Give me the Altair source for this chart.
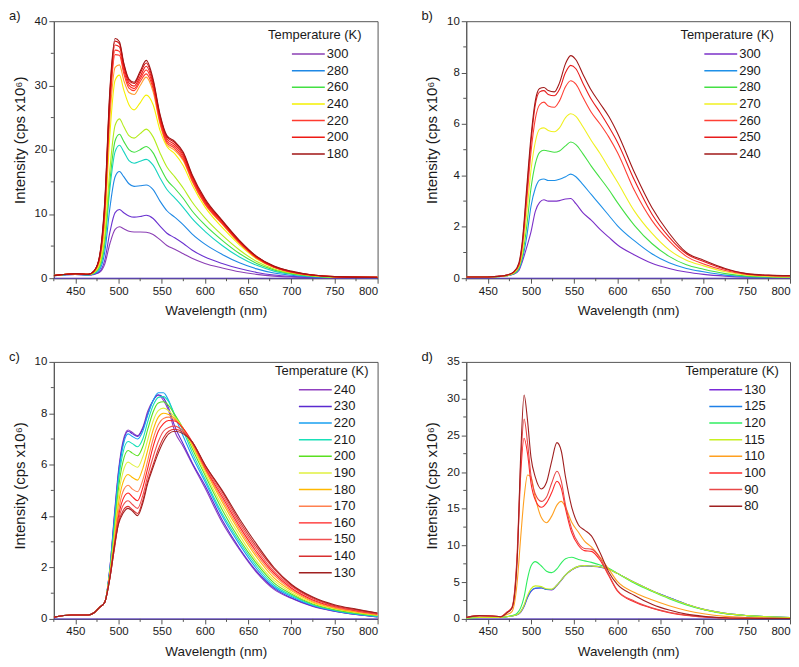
import altair as alt
import pandas as pd

FONT = "Liberation Sans"
AX = "#555555"
TXT = "#1a1a1a"

X_MAJOR = [450, 500, 550, 600, 650, 700, 750, 800]
X_MINOR = [425, 475, 525, 575, 625, 675, 725, 775]

# ---------------- panel a ----------------
WL_A = [425, 450, 465, 472, 478, 484, 490, 496, 501, 506, 512, 518, 525, 532, 540, 548, 556, 565, 575, 585, 600, 620, 640, 660, 680, 700, 725, 750, 800]
T_A = ["300", "290", "280", "270", "260", "250", "240", "230", "220", "210", "200", "190", "180"]
LEG_A = ["300", "280", "260", "240", "220", "200", "180"]
COL_A = ["#8b3fb5", "#6a32d0", "#1e88e5", "#17d4c0", "#43e043", "#b4ec1c", "#f5f000", "#ffa030", "#ff3b2f", "#ff2a1f", "#ee1a14", "#d01010", "#a01414"]
A_300 = [0.4, 0.6, 0.5, 0.6, 0.9, 2.2, 5.4, 7.6, 8.0, 7.7, 7.3, 7.2, 7.2, 7.15, 6.8, 6.0, 5.1, 4.5, 3.8, 3.1, 2.3, 1.6, 1.0, 0.6, 0.33, 0.18, 0.09, 0.05, 0.04]
A_290 = [0.4, 0.6, 0.5, 0.65, 1.0, 2.8, 7.2, 10.2, 10.7, 10.2, 9.7, 9.5, 9.6, 9.8, 9.3, 8.1, 7.0, 6.3, 5.4, 4.4, 3.3, 2.3, 1.5, 0.9, 0.5, 0.28, 0.13, 0.07, 0.05]
A_280 = [0.4, 0.6, 0.5, 0.7, 1.3, 4.1, 11.0, 15.8, 16.6, 15.8, 14.7, 14.3, 14.4, 14.5, 13.8, 12.0, 10.5, 9.5, 8.3, 6.9, 5.3, 3.7, 2.4, 1.45, 0.8, 0.45, 0.2, 0.1, 0.07]
A_270 = [0.4, 0.65, 0.55, 0.8, 1.6, 5.2, 14.0, 19.7, 20.7, 19.7, 18.3, 17.9, 18.2, 18.5, 17.6, 15.6, 13.8, 12.5, 11.0, 9.3, 7.3, 5.1, 3.3, 2.0, 1.1, 0.62, 0.28, 0.14, 0.09]
A_260 = [0.4, 0.65, 0.55, 0.85, 1.8, 5.8, 15.2, 21.4, 22.4, 21.3, 20.0, 19.6, 20.0, 20.5, 19.5, 17.3, 15.3, 14.0, 12.4, 10.5, 8.3, 5.9, 3.85, 2.3, 1.3, 0.72, 0.33, 0.16, 0.1]
A_250 = [0.4, 0.7, 0.6, 0.9, 2.0, 6.5, 17.0, 23.8, 24.8, 23.6, 22.2, 21.8, 22.5, 23.2, 22.0, 19.5, 17.3, 15.8, 14.0, 11.9, 9.4, 6.7, 4.4, 2.6, 1.45, 0.8, 0.37, 0.18, 0.12]
A_240 = [0.4, 0.7, 0.6, 1.0, 2.5, 8.5, 22.5, 30.8, 31.6, 29.3, 27.0, 26.2, 27.3, 28.5, 27.0, 23.0, 20.5, 19.4, 17.5, 14.6, 11.1, 7.9, 5.2, 3.0, 1.65, 0.92, 0.42, 0.2, 0.13]
A_230 = [0.4, 0.7, 0.6, 1.1, 2.8, 9.5, 25.0, 32.8, 33.2, 30.8, 28.9, 28.6, 30.0, 31.3, 29.0, 24.0, 20.8, 19.9, 18.3, 15.1, 11.5, 8.4, 5.45, 3.1, 1.7, 0.95, 0.45, 0.22, 0.14]
A_220 = [0.4, 0.7, 0.6, 1.1, 3.0, 10.2, 26.8, 34.8, 34.7, 31.9, 29.6, 29.2, 30.6, 31.8, 29.5, 24.3, 21.1, 20.2, 18.5, 15.3, 11.6, 8.5, 5.5, 3.15, 1.7, 0.95, 0.45, 0.22, 0.14]
A_210 = [0.4, 0.7, 0.6, 1.2, 3.2, 10.8, 27.6, 35.5, 35.3, 32.4, 30.0, 29.5, 31.0, 32.4, 29.9, 24.6, 21.4, 20.5, 18.8, 15.5, 11.8, 8.6, 5.6, 3.2, 1.75, 1.0, 0.45, 0.22, 0.14]
A_200 = [0.4, 0.7, 0.6, 1.2, 3.3, 11.2, 28.4, 36.3, 36.0, 32.9, 30.4, 29.9, 31.4, 33.0, 30.3, 25.0, 21.7, 20.8, 19.1, 15.8, 12.0, 8.8, 5.7, 3.3, 1.8, 1.0, 0.5, 0.25, 0.15]
A_190 = [0.4, 0.7, 0.6, 1.2, 3.4, 11.6, 29.0, 36.9, 36.5, 33.3, 30.8, 30.3, 31.9, 33.5, 30.7, 25.3, 22.0, 21.1, 19.4, 16.0, 12.2, 8.9, 5.8, 3.35, 1.85, 1.05, 0.5, 0.25, 0.15]
A_180 = [0.4, 0.7, 0.6, 1.2, 3.5, 12.0, 29.5, 37.3, 36.8, 33.5, 31.0, 30.5, 32.2, 33.9, 31.0, 25.5, 22.2, 21.3, 19.6, 16.2, 12.4, 9.0, 5.9, 3.4, 1.9, 1.1, 0.5, 0.25, 0.15]

# ---------------- panel b ----------------
WL_B = [425, 450, 465, 472, 480, 486, 490, 495, 500, 505, 510, 515, 520, 527, 533, 540, 546, 552, 560, 570, 580, 590, 600, 620, 640, 660, 680, 700, 725, 750, 775, 800]
T_B = ["300", "290", "280", "270", "260", "250", "240"]
COL_B = ["#7b30c8", "#1e90e8", "#44e044", "#f0f020", "#ff4035", "#e81c1c", "#a01818"]
B_300 = [0.05, 0.05, 0.07, 0.1, 0.15, 0.3, 0.65, 1.2, 1.8, 2.6, 2.95, 3.05, 3.0, 3.0, 3.02, 3.08, 3.1, 2.9, 2.55, 2.25, 1.9, 1.6, 1.3, 0.9, 0.58, 0.38, 0.24, 0.15, 0.08, 0.04, 0.03, 0.02]
B_290 = [0.05, 0.05, 0.07, 0.1, 0.17, 0.35, 0.75, 1.6, 2.8, 3.5, 3.82, 3.86, 3.8, 3.8, 3.85, 3.95, 4.05, 3.95, 3.65, 3.25, 2.85, 2.45, 2.05, 1.45, 0.95, 0.6, 0.38, 0.25, 0.12, 0.06, 0.04, 0.03]
B_280 = [0.05, 0.05, 0.07, 0.1, 0.18, 0.4, 0.85, 2.0, 3.5, 4.45, 4.9, 4.98, 4.95, 4.9, 4.95, 5.15, 5.3, 5.2, 4.85, 4.35, 3.9, 3.45, 2.95, 2.05, 1.35, 0.85, 0.52, 0.35, 0.18, 0.08, 0.05, 0.04]
B_270 = [0.05, 0.05, 0.07, 0.1, 0.2, 0.45, 1.0, 2.5, 4.2, 5.3, 5.8, 5.85, 5.75, 5.7, 5.85, 6.25, 6.4, 6.3, 5.9, 5.35, 4.85, 4.3, 3.75, 2.6, 1.75, 1.1, 0.7, 0.48, 0.25, 0.12, 0.07, 0.05]
B_260 = [0.05, 0.05, 0.08, 0.12, 0.23, 0.5, 1.25, 3.0, 4.9, 6.2, 6.75, 6.85, 6.7, 6.65, 6.9, 7.45, 7.68, 7.55, 7.05, 6.45, 6.0, 5.5, 4.9, 3.4, 2.25, 1.45, 0.85, 0.55, 0.3, 0.15, 0.1, 0.08]
B_250 = [0.05, 0.05, 0.08, 0.12, 0.24, 0.55, 1.35, 3.3, 5.3, 6.75, 7.25, 7.3, 7.15, 7.1, 7.35, 8.0, 8.28, 8.15, 7.6, 6.95, 6.45, 5.9, 5.3, 3.8, 2.5, 1.6, 0.95, 0.65, 0.35, 0.17, 0.11, 0.1]
B_240 = [0.05, 0.05, 0.08, 0.12, 0.25, 0.6, 1.45, 3.5, 5.5, 6.9, 7.38, 7.42, 7.3, 7.25, 7.6, 8.35, 8.66, 8.5, 7.95, 7.3, 6.8, 6.3, 5.66, 4.1, 2.75, 1.75, 1.0, 0.7, 0.38, 0.18, 0.12, 0.1]

# ---------------- panel c ----------------
WL_C = [425, 445, 465, 472, 478, 484, 490, 495, 500, 505, 511, 516, 522, 528, 534, 540, 546, 552, 558, 565, 575, 585, 600, 620, 640, 660, 680, 700, 725, 750, 775, 800]
T_C = ["240", "230", "220", "210", "200", "190", "180", "170", "160", "150", "140", "130"]
COL_C = ["#9040c0", "#5a2ad0", "#18a0f0", "#18e0b8", "#5ae020", "#e0f040", "#ffb800", "#ff8050", "#ff2020", "#f05050", "#d83030", "#a02020"]
C_240 = [0.07, 0.15, 0.15, 0.25, 0.45, 0.65, 2.0, 4.0, 5.8, 6.9, 7.35, 7.25, 7.13, 7.45, 8.1, 8.5, 8.7, 8.5, 8.1, 7.3, 6.7, 6.05, 5.1, 3.75, 2.7, 1.8, 1.15, 0.8, 0.48, 0.3, 0.17, 0.08]
C_230 = [0.07, 0.15, 0.15, 0.25, 0.45, 0.65, 2.0, 3.9, 5.7, 6.8, 7.3, 7.2, 7.1, 7.4, 8.0, 8.5, 8.72, 8.6, 8.2, 7.5, 6.8, 6.1, 5.2, 3.85, 2.75, 1.85, 1.2, 0.82, 0.5, 0.3, 0.17, 0.08]
C_220 = [0.07, 0.15, 0.15, 0.25, 0.45, 0.65, 1.95, 3.8, 5.6, 6.7, 7.2, 7.1, 7.0, 7.3, 7.95, 8.5, 8.8, 8.8, 8.5, 7.9, 7.1, 6.35, 5.35, 4.0, 2.9, 1.95, 1.25, 0.87, 0.52, 0.32, 0.18, 0.09]
C_210 = [0.07, 0.15, 0.15, 0.25, 0.45, 0.65, 1.9, 3.6, 5.4, 6.45, 6.9, 6.82, 6.7, 7.0, 7.7, 8.3, 8.62, 8.65, 8.45, 7.95, 7.3, 6.5, 5.45, 4.1, 3.0, 2.05, 1.32, 0.92, 0.55, 0.34, 0.2, 0.1]
C_200 = [0.07, 0.15, 0.15, 0.25, 0.45, 0.65, 1.85, 3.4, 5.1, 6.1, 6.55, 6.45, 6.35, 6.7, 7.4, 8.05, 8.4, 8.45, 8.3, 7.95, 7.4, 6.65, 5.6, 4.25, 3.1, 2.15, 1.4, 0.97, 0.58, 0.36, 0.22, 0.12]
C_190 = [0.07, 0.15, 0.15, 0.25, 0.45, 0.65, 1.8, 3.2, 4.8, 5.7, 6.1, 6.0, 5.9, 6.3, 7.0, 7.7, 8.1, 8.2, 8.1, 7.85, 7.4, 6.75, 5.7, 4.4, 3.25, 2.25, 1.5, 1.03, 0.62, 0.4, 0.25, 0.14]
C_180 = [0.07, 0.15, 0.15, 0.25, 0.45, 0.65, 1.75, 3.0, 4.5, 5.3, 5.62, 5.5, 5.4, 5.85, 6.6, 7.35, 7.85, 8.0, 7.95, 7.8, 7.4, 6.8, 5.8, 4.55, 3.4, 2.4, 1.6, 1.1, 0.66, 0.42, 0.27, 0.15]
C_170 = [0.07, 0.15, 0.15, 0.25, 0.45, 0.65, 1.7, 2.9, 4.2, 4.95, 5.2, 5.05, 4.95, 5.4, 6.2, 7.0, 7.55, 7.8, 7.85, 7.75, 7.4, 6.85, 5.85, 4.65, 3.5, 2.5, 1.7, 1.15, 0.7, 0.45, 0.3, 0.17]
C_160 = [0.07, 0.15, 0.15, 0.25, 0.45, 0.65, 1.65, 2.8, 4.0, 4.65, 4.9, 4.75, 4.6, 5.1, 5.9, 6.7, 7.3, 7.6, 7.72, 7.7, 7.4, 6.9, 5.9, 4.75, 3.6, 2.6, 1.78, 1.2, 0.74, 0.48, 0.32, 0.19]
C_150 = [0.07, 0.15, 0.15, 0.25, 0.45, 0.65, 1.6, 2.7, 3.85, 4.4, 4.6, 4.45, 4.3, 4.8, 5.6, 6.3, 6.9, 7.3, 7.45, 7.5, 7.3, 6.9, 5.95, 4.85, 3.7, 2.7, 1.85, 1.27, 0.78, 0.5, 0.34, 0.2]
C_140 = [0.07, 0.15, 0.15, 0.25, 0.45, 0.65, 1.6, 2.7, 3.75, 4.2, 4.38, 4.25, 4.1, 4.6, 5.4, 6.0, 6.6, 7.05, 7.3, 7.38, 7.25, 6.9, 6.0, 4.95, 3.8, 2.8, 1.95, 1.32, 0.82, 0.52, 0.36, 0.22]
C_130 = [0.07, 0.15, 0.15, 0.25, 0.45, 0.65, 1.6, 2.8, 3.7, 4.1, 4.3, 4.2, 4.02, 4.5, 5.3, 5.9, 6.45, 6.9, 7.2, 7.3, 7.2, 6.9, 6.0, 5.0, 3.9, 2.9, 2.0, 1.35, 0.85, 0.55, 0.38, 0.23]

# ---------------- panel d ----------------
WL_D = [425, 440, 455, 465, 472, 478, 484, 488, 492, 496, 500, 505, 512, 518, 524, 530, 535, 540, 547, 555, 562, 570, 580, 590, 600, 620, 640, 660, 680, 700, 725, 750, 800]
T_D = ["130", "125", "120", "115", "110", "100", "90", "80"]
COL_D = ["#7a2ad8", "#1e80e8", "#30ee60", "#c8f020", "#ffa020", "#ff2a2a", "#e84848", "#a02020"]
D_130 = [0.1, 0.2, 0.2, 0.2, 0.3, 0.4, 0.55, 0.9, 1.7, 2.9, 3.75, 4.15, 4.2, 4.0, 3.95, 4.55, 5.25, 5.95, 6.65, 7.1, 7.2, 7.15, 7.05, 6.75, 6.2, 4.95, 3.85, 2.9, 2.0, 1.3, 0.75, 0.45, 0.2]
D_125 = [0.1, 0.2, 0.2, 0.2, 0.3, 0.4, 0.6, 1.0, 1.8, 3.0, 3.8, 4.2, 4.25, 4.0, 4.0, 4.6, 5.3, 6.0, 6.7, 7.15, 7.25, 7.2, 7.1, 6.75, 6.2, 4.95, 3.85, 2.9, 2.0, 1.3, 0.75, 0.45, 0.2]
D_120 = [0.1, 0.2, 0.2, 0.2, 0.3, 0.45, 0.8, 1.5, 3.0, 5.5, 7.2, 7.8, 7.2, 6.5, 6.3, 6.8, 7.6, 8.2, 8.4, 8.1, 7.9, 7.7, 7.35, 6.9, 6.2, 4.85, 3.75, 2.75, 1.9, 1.25, 0.7, 0.45, 0.2]
D_115 = [0.1, 0.2, 0.2, 0.2, 0.3, 0.4, 0.6, 1.0, 1.9, 3.2, 4.1, 4.5, 4.4, 4.1, 4.05, 4.6, 5.3, 6.0, 6.7, 7.15, 7.25, 7.2, 7.1, 6.75, 6.2, 4.95, 3.85, 2.85, 2.0, 1.3, 0.75, 0.45, 0.2]
D_110 = [0.2, 0.4, 0.35, 0.3, 0.6, 1.0, 5.0, 11.0, 16.5, 19.6, 19.3, 16.5, 13.8, 13.1, 14.0, 15.5, 16.0, 15.2, 13.2, 11.8, 10.6, 9.8, 8.4, 6.8, 5.1, 3.6, 2.6, 1.8, 1.15, 0.7, 0.35, 0.2, 0.1]
D_100 = [0.2, 0.45, 0.4, 0.3, 0.9, 1.5, 8.5, 19.5, 24.6, 22.5, 18.5, 16.2, 15.2, 15.8, 17.2, 18.75, 17.8, 15.0, 11.8, 10.0, 9.3, 9.2, 8.0, 5.9, 3.8, 2.3, 1.45, 0.85, 0.48, 0.27, 0.12, 0.07, 0.05]
D_90 = [0.2, 0.45, 0.4, 0.3, 0.9, 1.6, 9.0, 21.0, 27.2, 24.0, 19.5, 17.0, 16.0, 16.6, 18.5, 20.1, 18.8, 15.5, 12.3, 10.3, 9.6, 9.5, 8.3, 6.0, 3.9, 2.4, 1.5, 0.9, 0.5, 0.28, 0.12, 0.07, 0.05]
D_80 = [0.2, 0.45, 0.4, 0.3, 0.8, 1.5, 8.0, 22.0, 30.5, 27.0, 22.0, 19.3, 17.7, 18.6, 21.5, 24.0, 22.9, 19.3, 15.3, 12.8, 12.1, 11.3, 9.0, 6.4, 4.7, 3.2, 2.0, 1.2, 0.65, 0.35, 0.15, 0.08, 0.05]

W = 325
H = 258


def make_df(wl, temps, series):
    rows = []
    for k, (t, vals) in enumerate(zip(temps, series)):
        for w, v in zip(wl, vals):
            rows.append({"wl": w, "I": v, "T": t, "k": k})
    return pd.DataFrame(rows)


def panel(tag, wl, temps, series, colors, ymax, ymajor, yminor, legend_vals, lx, ly, tshift):
    df = make_df(wl, temps, series)
    xs = alt.Scale(domain=[425, 800], nice=False, zero=False)
    ys = alt.Scale(domain=[0, ymax], nice=False)
    xaxis = alt.Axis(values=X_MAJOR, title="Wavelength (nm)")
    yaxis = alt.Axis(values=ymajor, title="Intensity (cps x10⁶)", titleY=H / 2 + tshift)
    lines = alt.Chart(df).mark_line(strokeWidth=1.1, interpolate="monotone", clip=True).encode(
        x=alt.X("wl:Q", scale=xs, axis=xaxis),
        y=alt.Y("I:Q", scale=ys, axis=yaxis),
        color=alt.Color(
            "T:N",
            sort=temps,
            scale=alt.Scale(domain=temps, range=colors),
            legend=alt.Legend(title="Temperature (K)", values=legend_vals, orient="none",
                              legendX=lx, legendY=ly),
        ),
        detail="k:N",
    )
    zero = alt.Chart(pd.DataFrame({"I": [0]})).mark_rule(color="#5a3cc8", strokeWidth=1).encode(
        y=alt.Y("I:Q", scale=ys, axis=yaxis)
    )
    xmin = alt.Chart(pd.DataFrame({"wl": X_MINOR})).mark_rule(color=AX, strokeWidth=1).encode(
        x=alt.X("wl:Q", scale=xs, axis=xaxis), y=alt.value(H), y2=alt.value(H + 3)
    )
    ymin = alt.Chart(pd.DataFrame({"I": yminor})).mark_rule(color=AX, strokeWidth=1).encode(
        y=alt.Y("I:Q", scale=ys, axis=yaxis), x=alt.value(0), x2=alt.value(-3)
    )
    return alt.layer(zero, lines, xmin, ymin).properties(
        width=W,
        height=H,
        title=alt.TitleParams(tag, anchor="start", frame="group", dx=-45, offset=-8,
                              fontSize=13, fontWeight="normal", font=FONT, color=TXT),
    )


pa = panel("a)", WL_A, T_A, [A_300, A_290, A_280, A_270, A_260, A_250, A_240, A_230, A_220, A_210, A_200, A_190, A_180],
           COL_A, 40, [0, 10, 20, 30, 40], [5, 15, 25, 35], LEG_A, 215, 8, -10)
pb = panel("b)", WL_B, T_B, [B_300, B_290, B_280, B_270, B_260, B_250, B_240],
           COL_B, 10, [0, 2, 4, 6, 8, 10], [1, 3, 5, 7, 9], T_B, 215, 8, -10)
pc = panel("c)", WL_C, T_C, [C_240, C_230, C_220, C_210, C_200, C_190, C_180, C_170, C_160, C_150, C_140, C_130],
           COL_C, 10, [0, 2, 4, 6, 8, 10], [1, 3, 5, 7, 9], T_C, 222, 3, -5)
pd_ = panel("d)", WL_D, T_D, [D_130, D_125, D_120, D_115, D_110, D_100, D_90, D_80],
            COL_D, 35, [0, 5, 10, 15, 20, 25, 30, 35], [2.5, 7.5, 12.5, 17.5, 22.5, 27.5, 32.5], T_D, 220, 3, -5)

row1 = alt.hconcat(pa, pb, spacing=42).resolve_scale(color="independent", x="independent", y="independent")
row2 = alt.hconcat(pc, pd_, spacing=42).resolve_scale(color="independent", x="independent", y="independent")

chart = (
    alt.vconcat(row1, row2, spacing=32)
    .resolve_scale(color="independent", x="independent", y="independent")
    .properties(padding=0)
    .configure(font=FONT)
    .configure_view(stroke=AX, strokeWidth=1)
    .configure_axis(
        labelFont=FONT, titleFont=FONT, labelFontSize=11.5,
        labelColor=TXT, titleColor=TXT, domainColor=AX, tickColor=AX, tickSize=5,
        grid=False, titleFontWeight="normal", labelPadding=2,
    )
    .configure_axisX(titlePadding=7, titleFontSize=13.5)
    .configure_axisY(titlePadding=7, titleFontSize=15)
    .configure_legend(
        titleFont=FONT, labelFont=FONT, titleFontSize=13, labelFontSize=13,
        titleFontWeight="normal", titleColor=TXT, labelColor=TXT,
        symbolType="M-4.5,0H1", symbolSize=144, symbolStrokeWidth=1.5,
        symbolOffset=44, labelOffset=1, rowPadding=2.7, titlePadding=5, padding=0,
    )
)

chart.save("out.html", embed_options={"renderer": "svg", "actions": False})
